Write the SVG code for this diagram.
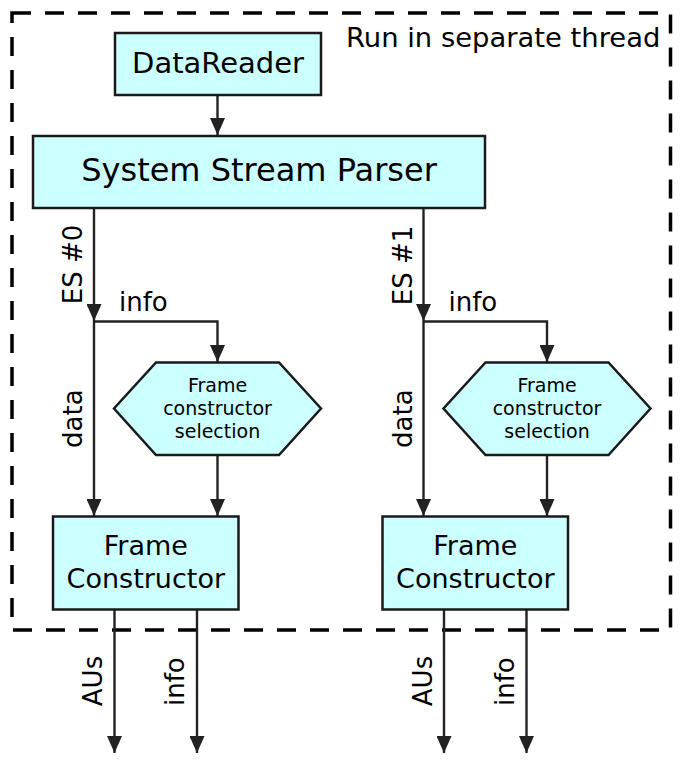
<svg xmlns="http://www.w3.org/2000/svg" width="687" height="770" viewBox="0 0 687 770">
<defs>
<style>
.box{fill:#ccffff;stroke:#1a1a1a;stroke-width:2.5}
.con{fill:none;stroke:#222;stroke-width:2.4}
.arr{marker-end:url(#ah)}
text{font-family:"DejaVu Sans","Verdana",sans-serif;fill:#000}
.lbl{font-size:26px}
.hx{font-size:19px;text-anchor:middle}
.fc{font-size:27px;text-anchor:middle}
.mid{text-anchor:middle}
</style>
<marker id="ah" markerUnits="userSpaceOnUse" markerWidth="17" markerHeight="15" refX="17" refY="7.5" orient="auto">
<path d="M0,0 L17,7.5 L0,15 z" fill="#222"/>
</marker>
</defs>
<rect width="687" height="770" fill="#fff"/>

<g id="thread">
<rect x="12" y="13" width="658.5" height="617" fill="none" stroke="#000" stroke-width="3.5" stroke-dasharray="19 14"/>
<text x="346" y="46.5" font-size="27.4">Run in separate thread</text>
</g>

<g id="connectors">
<path class="con arr" d="M217.5,95 V135"/>
<path class="con arr" d="M94,208 V321"/>
<path class="con arr" d="M94,321 V516"/>
<path class="con arr" d="M94,321.5 H217.5 V362"/>
<path class="con arr" d="M217.5,455 V516"/>
<path class="con arr" d="M114.5,609 V753"/>
<path class="con arr" d="M197,609 V753"/>
<path class="con arr" d="M423.5,208 V321"/>
<path class="con arr" d="M423.5,321 V516"/>
<path class="con arr" d="M423.5,321.5 H547 V362"/>
<path class="con arr" d="M547,455 V516"/>
<path class="con arr" d="M444,609 V753"/>
<path class="con arr" d="M526.5,609 V753"/>
<text class="lbl mid" transform="translate(82.3,264.5) rotate(-90)">ES #0</text>
<text class="lbl" x="119" y="311">info</text>
<text class="lbl mid" transform="translate(82.3,418.7) rotate(-90)">data</text>
<text class="lbl mid" transform="translate(102.3,681) rotate(-90)">AUs</text>
<text class="lbl mid" transform="translate(184,681.7) rotate(-90)">info</text>
<text class="lbl mid" transform="translate(411.8,265.5) rotate(-90)">ES #1</text>
<text class="lbl" x="448.5" y="311">info</text>
<text class="lbl mid" transform="translate(411.8,418.7) rotate(-90)">data</text>
<text class="lbl mid" transform="translate(431.8,681) rotate(-90)">AUs</text>
<text class="lbl mid" transform="translate(513.5,681.7) rotate(-90)">info</text>
</g>

<g id="datareader">
<rect class="box" x="115" y="33" width="206" height="62"/>
<text class="mid" x="218" y="73" font-size="29">DataReader</text>
</g>

<g id="parser">
<rect class="box" x="33" y="136" width="452" height="72"/>
<text class="mid" x="259" y="181" font-size="32">System Stream Parser</text>
</g>

<g id="selection0">
<polygon class="box" points="156,362.5 279,362.5 321,408.5 279,455 156,455 114,408.5"/>
<text class="hx" x="217.5" y="391.7">Frame</text>
<text class="hx" x="217.5" y="415">constructor</text>
<text class="hx" x="217.5" y="437.7">selection</text>
</g>

<g id="selection1">
<polygon class="box" points="485.5,362.5 608.5,362.5 650.5,408.5 608.5,455 485.5,455 443.5,408.5"/>
<text class="hx" x="547" y="391.7">Frame</text>
<text class="hx" x="547" y="415">constructor</text>
<text class="hx" x="547" y="437.7">selection</text>
</g>

<g id="framecon0">
<rect class="box" x="53" y="516.5" width="185.5" height="93"/>
<text class="fc" x="145.8" y="554.5">Frame</text>
<text class="fc" x="145.8" y="588">Constructor</text>
</g>

<g id="framecon1">
<rect class="box" x="382.5" y="516.5" width="185.5" height="93"/>
<text class="fc" x="475.3" y="554.5">Frame</text>
<text class="fc" x="475.3" y="588">Constructor</text>
</g>
</svg>
